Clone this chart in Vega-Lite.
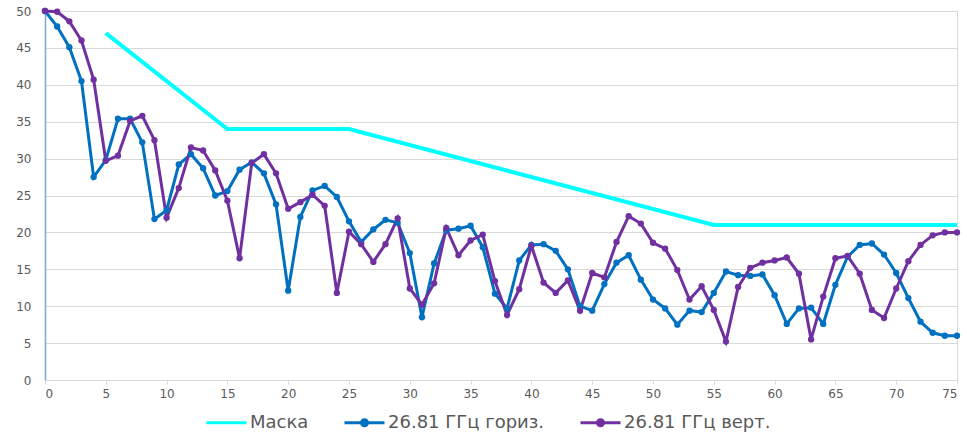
{
  "$schema": "https://vega.github.io/schema/vega-lite/v6.json",
  "width": 912,
  "height": 369,
  "autosize": {"type": "none"},
  "padding": {"left": 45, "top": 11, "right": 10, "bottom": 53},
  "background": "white",
  "config": {
    "view": {"stroke": "#d9d9d9", "strokeWidth": 1},
    "font": "DejaVu Sans"
  },
  "datasets": {
    "mask": [
      {"x": 5, "s": "Маска", "v": 47},
      {"x": 15, "s": "Маска", "v": 34},
      {"x": 25, "s": "Маска", "v": 34},
      {"x": 55, "s": "Маска", "v": 21},
      {"x": 75, "s": "Маска", "v": 21}
    ],
    "meas": [
      {"x":0,"h":50,"w":50},{"x":1,"h":47.9,"w":49.9},{"x":2,"h":45.1,"w":48.6},{"x":3,"h":40.5,"w":46},{"x":4,"h":27.5,"w":40.7},
      {"x":5,"h":29.8,"w":29.7},{"x":6,"h":35.4,"w":30.4},{"x":7,"h":35.4,"w":35.1},{"x":8,"h":32.2,"w":35.8},{"x":9,"h":21.8,"w":32.5},
      {"x":10,"h":23,"w":22},{"x":11,"h":29.2,"w":26},{"x":12,"h":30.6,"w":31.5},{"x":13,"h":28.7,"w":31.1},{"x":14,"h":25,"w":28.4},
      {"x":15,"h":25.6,"w":24.3},{"x":16,"h":28.5,"w":16.5},{"x":17,"h":29.5,"w":29.4},{"x":18,"h":28,"w":30.6},{"x":19,"h":23.8,"w":28},
      {"x":20,"h":12.1,"w":23.2},{"x":21,"h":22.1,"w":24.1},{"x":22,"h":25.7,"w":25.1},{"x":23,"h":26.3,"w":23.6},{"x":24,"h":24.8,"w":11.8},
      {"x":25,"h":21.5,"w":20.1},{"x":26,"h":18.7,"w":18.4},{"x":27,"h":20.4,"w":16},{"x":28,"h":21.7,"w":18.4},{"x":29,"h":21.3,"w":21.9},
      {"x":30,"h":17.2,"w":12.4},{"x":31,"h":8.5,"w":10.2},{"x":32,"h":15.8,"w":13.1},{"x":33,"h":20.3,"w":20.6},{"x":34,"h":20.5,"w":16.9},
      {"x":35,"h":20.9,"w":18.9},{"x":36,"h":18,"w":19.7},{"x":37,"h":11.7,"w":13.4},{"x":38,"h":9.7,"w":8.8},{"x":39,"h":16.2,"w":12.3},
      {"x":40,"h":18.3,"w":18.2},{"x":41,"h":18.4,"w":13.2},{"x":42,"h":17.5,"w":11.8},{"x":43,"h":15,"w":13.5},{"x":44,"h":10,"w":9.4},
      {"x":45,"h":9.4,"w":14.5},{"x":46,"h":13,"w":13.9},{"x":47,"h":15.9,"w":18.7},{"x":48,"h":16.9,"w":22.2},{"x":49,"h":13.6,"w":21.2},
      {"x":50,"h":10.9,"w":18.6},{"x":51,"h":9.7,"w":17.8},{"x":52,"h":7.5,"w":14.9},{"x":53,"h":9.4,"w":10.9},{"x":54,"h":9.2,"w":12.7},
      {"x":55,"h":11.8,"w":9.5},{"x":56,"h":14.7,"w":5.2},{"x":57,"h":14.2,"w":12.6},{"x":58,"h":14.1,"w":15.2},{"x":59,"h":14.3,"w":15.9},
      {"x":60,"h":11.5,"w":16.2},{"x":61,"h":7.6,"w":16.6},{"x":62,"h":9.7,"w":14.4},{"x":63,"h":9.8,"w":5.5},{"x":64,"h":7.6,"w":11.3},
      {"x":65,"h":12.9,"w":16.5},{"x":66,"h":16.7,"w":16.8},{"x":67,"h":18.3,"w":14.4},{"x":68,"h":18.5,"w":9.5},{"x":69,"h":17,"w":8.4},
      {"x":70,"h":14.5,"w":12.4},{"x":71,"h":11.1,"w":16.1},{"x":72,"h":7.9,"w":18.3},{"x":73,"h":6.4,"w":19.6},{"x":74,"h":6,"w":20},
      {"x":75,"h":6,"w":20}
    ]
  },
  "encoding": {
    "x": {
      "field": "x", "type": "quantitative",
      "scale": {"domain": [0, 75], "nice": false, "zero": false},
      "axis": {
        "title": null, "values": [0,5,10,15,20,25,30,35,40,45,50,55,60,65,70,75],
        "grid": false, "domainColor": "#d9d9d9", "tickColor": "#d9d9d9", "tickSize": 4,
        "labelColor": "#595959", "labelFontSize": 12, "labelPadding": 4
      }
    },
    "y": {
      "field": "v", "type": "quantitative",
      "scale": {"domain": [0, 50], "nice": false},
      "axis": {
        "title": null, "values": [0,5,10,15,20,25,30,35,40,45,50],
        "gridColor": "#d9d9d9", "domainColor": "#7fa8d8", "domainWidth": 1.5, "ticks": false,
        "labelColor": "#595959", "labelFontSize": 12, "labelPadding": 14
      }
    },
    "color": {
      "field": "s", "type": "nominal",
      "scale": {"domain": ["Маска", "26.81 ГГц гориз.", "26.81 ГГц верт."], "range": ["#00ffff", "#0070c0", "#7030a0"]},
      "legend": {
        "title": null, "orient": "none", "direction": "horizontal",
        "legendX": 160, "legendY": 390,
        "labelFontSize": 18, "labelColor": "#595959",
        "symbolSize": 1600, "symbolStrokeWidth": 3, "labelOffset": 2, "columnPadding": 29,
        "symbolType": "stroke",
        "encode": {
          "symbols": {
            "update": {
              "shape": [
                {"test": "datum.value === 'Маска'", "value": "stroke"},
                {"value": "M-1,0L1,0M0.15,0A0.15,0.15 0 1,1 -0.15,0A0.15,0.15 0 1,1 0.15,0Z"}
              ],
              "fill": [
                {"test": "datum.value === 'Маска'", "value": "transparent"},
                {"scale": "color", "field": "value"}
              ],
              "fillOpacity": {"value": 1}
            }
          }
        }
      }
    }
  },
  "layer": [
    {
      "data": {"name": "mask"},
      "mark": {"type": "line", "strokeWidth": 4},
      "encoding": {}
    },
    {
      "data": {"name": "meas"},
      "transform": [
        {"fold": ["h", "w"], "as": ["k", "v"]},
        {"calculate": "datum.k === 'h' ? '26.81 ГГц гориз.' : '26.81 ГГц верт.'", "as": "s"}
      ],
      "mark": {"type": "line", "strokeWidth": 3, "point": {"filled": true, "size": 40}},
      "encoding": {
        "detail": {"field": "s"}
      }
    }
  ]
}
